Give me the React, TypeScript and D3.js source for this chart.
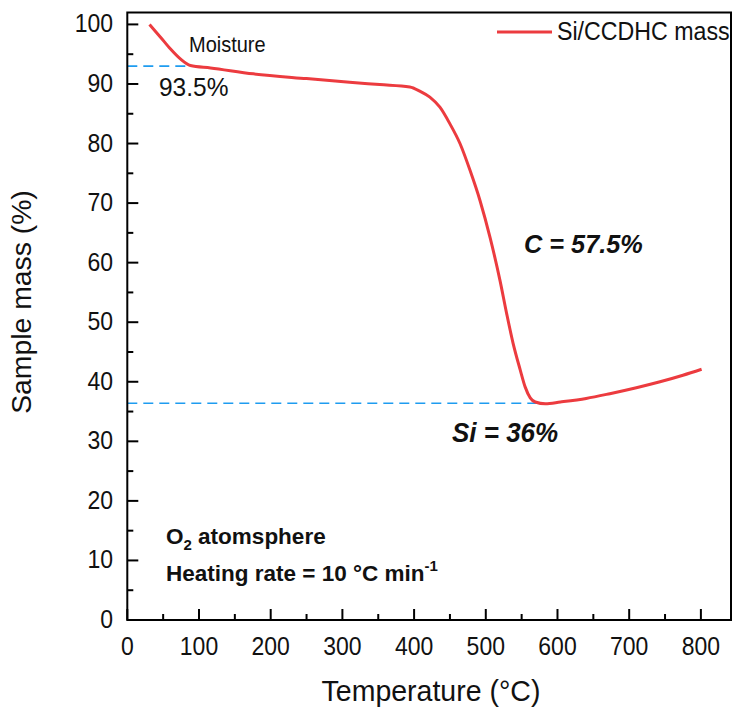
import React from "react";
import * as d3 from "d3";

const temperature = [31, 46, 60, 74, 88, 116, 176, 250, 310, 352, 394, 408, 422, 436, 450, 464, 478, 492, 506, 520, 529, 538, 548, 555, 562, 569, 583, 604, 640, 673, 710, 743, 775, 801];
const mass = [100, 97.9, 95.9, 94.2, 93.1, 92.7, 91.7, 90.9, 90.3, 89.9, 89.5, 88.8, 87.8, 86.1, 83.3, 80.0, 75.5, 70.4, 64.2, 56.9, 51.5, 46.5, 42.0, 39.1, 37.3, 36.6, 36.3, 36.6, 37.2, 38.0, 39.0, 40.0, 41.1, 42.1];
const xTicks = [0, 100, 200, 300, 400, 500, 600, 700, 800];
const yTicks = [0, 10, 20, 30, 40, 50, 60, 70, 80, 90, 100];
const moistureLevel = 93;
const moistureEndT = 92;
const siLevel = 36.4;
const siEndT = 576;
const seriesName = "Si/CCDHC mass";

const W = 736, H = 708;
const L = 127.3, R = 731, T = 12.5, B = 620;

function Txt(props: { x: number; y: number; size: number; sy?: number; anchor?: string; bold?: boolean; italic?: boolean; children: React.ReactNode }) {
  const { x, y, size, sy = 1, anchor = "start", bold, italic, children } = props;
  return (
    <text transform={`translate(${x},${y}) scale(1,${sy})`} textAnchor={anchor} fontSize={size}
      fontWeight={bold ? "bold" : "normal"} fontStyle={italic ? "italic" : "normal"} fill="#111">
      {children}
    </text>
  );
}

export default function App() {
  const x = d3.scaleLinear().domain([0, 842]).range([L, R]);
  const y = d3.scaleLinear().domain([0, 102]).range([B, T]);
  const pts = temperature.map((t, i) => [t, mass[i]] as [number, number]);
  const line = d3.line<[number, number]>().x(d => x(d[0])).y(d => y(d[1])).curve(d3.curveMonotoneX);
  const font = "Arial, 'Liberation Sans', sans-serif";
  const minorX = d3.range(50, 842, 100);
  const minorY = d3.range(5, 100, 10);
  return (
    <svg width={W} height={H} style={{ position: "absolute", left: 0, top: 0 }} fontFamily={font}>
      <rect x={0} y={0} width={W} height={H} fill="#fff" />
      <line x1={x(0)} x2={x(moistureEndT)} y1={y(moistureLevel)} y2={y(moistureLevel)} stroke="#1e9cf0" strokeWidth={1.6} strokeDasharray="10,6" />
      <line x1={x(0)} x2={x(siEndT)} y1={y(siLevel)} y2={y(siLevel)} stroke="#1e9cf0" strokeWidth={1.6} strokeDasharray="10,6" />
      <path d={line(pts) || ""} fill="none" stroke="#ec3b3f" strokeWidth={3} strokeLinejoin="round" />
      <rect x={L} y={T} width={R - L} height={B - T} fill="none" stroke="#000" strokeWidth={2} />
      {xTicks.map(t => (
        <g key={"xt" + t}>
          <line x1={x(t)} x2={x(t)} y1={B} y2={B - 11} stroke="#000" strokeWidth={2} />
          <Txt x={x(t)} y={655} size={23} sy={1.15} anchor="middle">{t}</Txt>
        </g>
      ))}
      {minorX.map(t => (
        <line key={"xm" + t} x1={x(t)} x2={x(t)} y1={B} y2={B - 6} stroke="#000" strokeWidth={2} />
      ))}
      {yTicks.map(t => (
        <g key={"yt" + t}>
          <line x1={L} x2={L + 11} y1={y(t)} y2={y(t)} stroke="#000" strokeWidth={2} />
          <Txt x={113} y={y(t) + 8} size={23} sy={1.15} anchor="end">{t}</Txt>
        </g>
      ))}
      {minorY.map(t => (
        <line key={"ym" + t} x1={L} x2={L + 6} y1={y(t)} y2={y(t)} stroke="#000" strokeWidth={2} />
      ))}
      <Txt x={431} y={701} size={28.5} sy={1.06} anchor="middle">Temperature (°C)</Txt>
      <text transform={`translate(31, 302) scale(1,1.05) rotate(-90)`} textAnchor="middle" fontSize={27} fill="#111">Sample mass (%)</text>
      <line x1={497} x2={552} y1={32} y2={32} stroke="#ec3b3f" strokeWidth={3} />
      <Txt x={557} y={40} size={23.2} sy={1.08}>{seriesName}</Txt>
      <Txt x={189} y={52} size={20} sy={1.08}>Moisture</Txt>
      <Txt x={159} y={96} size={24.5} sy={1.08}>93.5%</Txt>
      <Txt x={524} y={253} size={25.3} sy={1.05} bold italic>C = 57.5%</Txt>
      <Txt x={452} y={442} size={26} sy={1.05} bold italic>Si = 36%</Txt>
      <Txt x={166} y={544} size={22.5} bold>
        O<tspan fontSize={15} dy={6}>2</tspan><tspan dy={-6}> atomsphere</tspan>
      </Txt>
      <Txt x={166} y={581} size={22.5} bold>
        Heating rate = 10 °C min<tspan fontSize={15} dy={-10}>-1</tspan>
      </Txt>
    </svg>
  );
}
